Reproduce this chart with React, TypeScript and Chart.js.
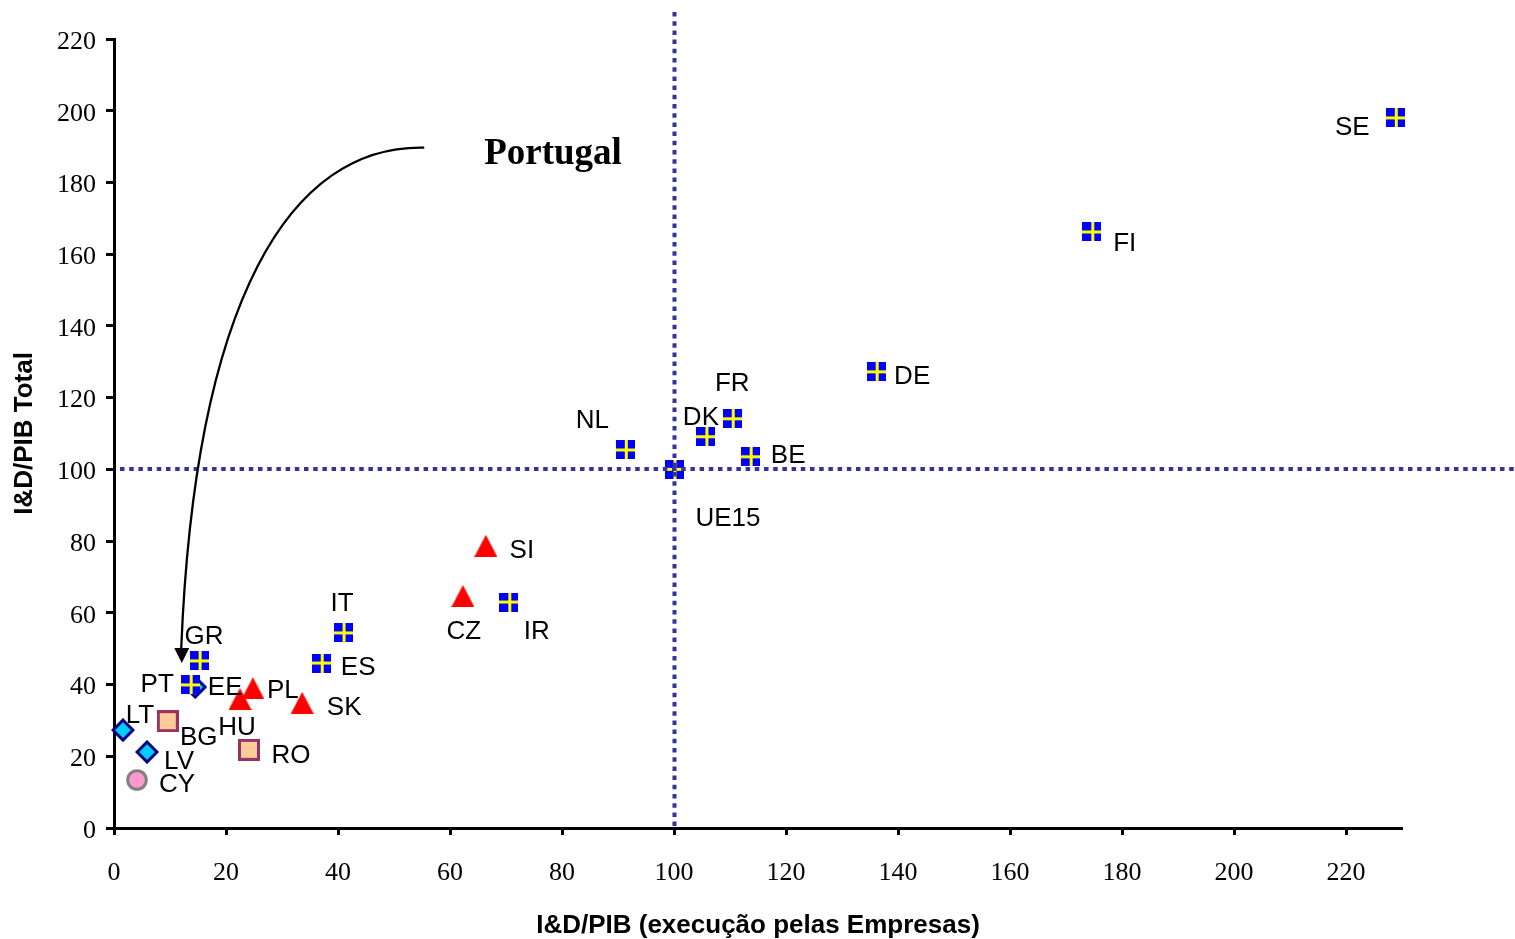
import { useEffect, useRef } from 'react';
import { Chart, registerables } from 'chart.js';

Chart.register(...registerables);

// ---- Data ----
const eu15Labels = ['SE', 'FI', 'DE', 'FR', 'DK', 'BE', 'NL', 'UE15', 'IR', 'IT', 'ES', 'GR', 'PT'];
const eu15X = [228.8, 174.6, 136.1, 110.4, 105.7, 113.6, 91.3, 100, 70.5, 40.9, 37.0, 15.2, 13.6];
const eu15Y = [198.0, 166.2, 127.2, 114.1, 109.1, 103.5, 105.4, 100, 63.0, 54.4, 46.0, 46.6, 39.9];

const triLabels = ['SI', 'CZ', 'PL', 'HU', 'SK'];
const triX = [66.4, 62.3, 24.8, 22.5, 33.6];
const triY = [78.7, 64.7, 39.0, 36.0, 34.9];

const sqLabels = ['BG', 'RO'];
const sqX = [9.6, 24.1];
const sqY = [29.8, 21.8];

const diaLabels = ['EE', 'LT', 'LV'];
const diaX = [14.5, 1.6, 5.9];
const diaY = [39.3, 27.3, 21.2];

const cirLabels = ['CY'];
const cirX = [4.1];
const cirY = [13.4];

const xMin = 0;
const xMax = 230;
const yMin = 0;
const yMax = 220;
const tickStep = 20;

const refX = 100; // UE15 reference
const refY = 100;

const xTitle = 'I&D/PIB (execução pelas Empresas)';
const yTitle = 'I&D/PIB Total';
const noteText = 'Portugal';

// ---- Label offsets (pixels, style only) ----
const labelOffsets: Record<string, [number, number]> = {
  SE: [-43, 8], FI: [33, 10], DE: [36, 3], FR: [0, -37], DK: [-5, -21], BE: [38, -3],
  NL: [-33, -31], UE15: [54, 47], IR: [28, 28], IT: [-1, -31], ES: [37, 3], GR: [5, -26],
  PT: [-33, -2], EE: [30, -1], SI: [36, 3], CZ: [1, 34], PL: [30, 1], HU: [-3, 27],
  SK: [42, 3], BG: [31, 15], RO: [42, 4], LT: [17, -16], LV: [32, 8], CY: [40, 3],
};
const labelBaselineShift = 2;

// annotation geometry in data units
const arrowPath = { p0: [55.4, 189.7], c1: [31.4, 190.5], c2: [14.5, 147.3], p3: [12.0, 50.0], tip: [12.1, 46.0] };
const notePos = [78.4, 187.8];

const SANS = '"Liberation Sans", Arial, sans-serif';
const SERIF = '"Liberation Serif", "Times New Roman", serif';

function mk(w: number, h: number, draw: (g: CanvasRenderingContext2D) => void): HTMLCanvasElement {
  const c = document.createElement('canvas');
  c.width = w;
  c.height = h;
  draw(c.getContext('2d')!);
  return c;
}

function makeMarkers() {
  const flag = mk(19, 19, (g) => {
    g.fillStyle = '#0000FF';
    g.fillRect(0, 0, 19, 19);
    g.fillStyle = '#FFFF00';
    g.fillRect(9, 0, 3, 19);
    g.fillRect(0, 8, 19, 3);
  });
  const tri = mk(23, 22, (g) => {
    g.fillStyle = '#FF0000';
    g.beginPath();
    g.moveTo(11.5, 0);
    g.lineTo(23, 22);
    g.lineTo(0, 22);
    g.closePath();
    g.fill();
  });
  const sq = mk(22, 22, (g) => {
    g.fillStyle = '#FFCC99';
    g.fillRect(1.5, 1.5, 19, 19);
    g.strokeStyle = '#993366';
    g.lineWidth = 3;
    g.strokeRect(1.5, 1.5, 19, 19);
  });
  const dia = mk(24, 24, (g) => {
    g.fillStyle = '#00CCFF';
    g.strokeStyle = '#000080';
    g.lineWidth = 3;
    g.lineJoin = 'miter';
    g.beginPath();
    g.moveTo(12, 2);
    g.lineTo(22, 12);
    g.lineTo(12, 22);
    g.lineTo(2, 12);
    g.closePath();
    g.fill();
    g.stroke();
  });
  const cir = mk(22, 22, (g) => {
    g.fillStyle = '#FF99CC';
    g.strokeStyle = '#808080';
    g.lineWidth = 3;
    g.beginPath();
    g.arc(11, 11, 9.3, 0, Math.PI * 2);
    g.fill();
    g.stroke();
  });
  return { flag, tri, sq, dia, cir };
}

function toPts(xs: number[], ys: number[]) {
  return xs.map((x, i) => ({ x, y: ys[i] }));
}

export default function App() {
  const ref = useRef<HTMLCanvasElement>(null);

  useEffect(() => {
    if (!ref.current) return;
    const m = makeMarkers();

    const overlay = {
      id: 'overlay',
      afterDatasetsDraw(chart: any) {
        const ctx = chart.ctx as CanvasRenderingContext2D;
        const xs = chart.scales.x;
        const ys = chart.scales.y;
        const ca = chart.chartArea;
        ctx.save();
        // dotted reference lines
        ctx.strokeStyle = '#333399';
        ctx.lineWidth = 4;
        ctx.setLineDash([4.5, 4.7]);
        const vx = Math.round(xs.getPixelForValue(refX)) + 0.5;
        ctx.beginPath();
        ctx.moveTo(vx, 12);
        ctx.lineTo(vx, ca.bottom);
        ctx.stroke();
        const hy = Math.round(ys.getPixelForValue(refY));
        ctx.beginPath();
        ctx.moveTo(ca.left + 6, hy);
        ctx.lineTo(chart.width, hy);
        ctx.stroke();
        ctx.setLineDash([]);

        // point labels
        ctx.fillStyle = '#000';
        ctx.font = `26px ${SANS}`;
        ctx.textAlign = 'center';
        ctx.textBaseline = 'middle';
        chart.data.datasets.forEach((ds: any, di: number) => {
          const meta = chart.getDatasetMeta(di);
          meta.data.forEach((el: any, i: number) => {
            const name = ds.names[i];
            const off = labelOffsets[name] || [0, 0];
            ctx.fillText(name, el.x + off[0], el.y + off[1] + labelBaselineShift);
          });
        });

        // arrow
        const P = (p: number[]) => [xs.getPixelForValue(p[0]), ys.getPixelForValue(p[1])];
        const p0 = P(arrowPath.p0), c1 = P(arrowPath.c1), c2 = P(arrowPath.c2), p3 = P(arrowPath.p3), tip = P(arrowPath.tip);
        ctx.strokeStyle = '#000';
        ctx.lineWidth = 2.3;
        ctx.beginPath();
        ctx.moveTo(p0[0], p0[1]);
        ctx.bezierCurveTo(c1[0], c1[1], c2[0], c2[1], p3[0], p3[1]);
        ctx.stroke();
        ctx.fillStyle = '#000';
        ctx.beginPath();
        ctx.moveTo(tip[0], tip[1]);
        ctx.lineTo(tip[0] - 7.5, tip[1] - 15);
        ctx.lineTo(tip[0] + 7.5, tip[1] - 15);
        ctx.closePath();
        ctx.fill();

        // note text
        const np = P(notePos);
        ctx.font = `bold 37px ${SERIF}`;
        ctx.fillText(noteText, np[0], np[1]);
        ctx.restore();
      },
      afterDraw(chart: any) {
        const ctx = chart.ctx as CanvasRenderingContext2D;
        const ca = chart.chartArea;
        ctx.save();
        ctx.fillStyle = '#000';
        ctx.font = `bold 26px ${SANS}`;
        ctx.textAlign = 'center';
        ctx.textBaseline = 'middle';
        ctx.fillText(xTitle, (ca.left + ca.right) / 2, ca.bottom + 98);
        ctx.translate(ca.left - 89, (ca.top + ca.bottom) / 2);
        ctx.rotate(-Math.PI / 2);
        ctx.fillText(yTitle, 0, 0);
        ctx.restore();
      },
    };

    const chart = new Chart(ref.current, {
      type: 'scatter',
      data: {
        datasets: [
          { label: 'UE15', names: eu15Labels, data: toPts(eu15X, eu15Y), pointStyle: m.flag, pointRadius: 10, clip: false } as any,
          { label: 'tri', names: triLabels, data: toPts(triX, triY), pointStyle: m.tri, pointRadius: 12, clip: false } as any,
          { label: 'sq', names: sqLabels, data: toPts(sqX, sqY), pointStyle: m.sq, pointRadius: 11, clip: false } as any,
          { label: 'dia', names: diaLabels, data: toPts(diaX, diaY), pointStyle: m.dia, pointRadius: 12, clip: false } as any,
          { label: 'cir', names: cirLabels, data: toPts(cirX, cirY), pointStyle: m.cir, pointRadius: 11, clip: false } as any,
        ],
      },
      options: {
        responsive: false,
        animation: false,
        layout: { padding: { top: 39, right: 113, left: 0, bottom: 0 } },
        plugins: { legend: { display: false }, tooltip: { enabled: false } },
        scales: {
          x: {
            type: 'linear', min: xMin, max: xMax,
            afterFit: (s: any) => { s.height = 111; },
            ticks: { stepSize: tickStep, includeBounds: false, color: '#000', padding: 23, font: { family: SERIF, size: 26 } },
            grid: { drawOnChartArea: false, drawTicks: true, tickLength: 7, tickColor: '#000', tickWidth: 3 },
            border: { display: true, color: '#000', width: 3 },
          },
          y: {
            type: 'linear', min: yMin, max: yMax,
            afterFit: (s: any) => { s.width = 114; },
            ticks: { stepSize: tickStep, color: '#000', padding: 10, labelOffset: 3, font: { family: SERIF, size: 26 } },
            grid: { drawOnChartArea: false, drawTicks: true, tickLength: 8, tickColor: '#000', tickWidth: 3 },
            border: { display: true, color: '#000', width: 3 },
          },
        },
      },
      plugins: [overlay],
    } as any);
    return () => chart.destroy();
  }, []);

  return (
    <div style={{ position: 'absolute', left: 0, top: 0, width: 1515, height: 939, background: '#fff' }}>
      <canvas ref={ref} width={1515} height={939} style={{ display: 'block' }} />
    </div>
  );
}
